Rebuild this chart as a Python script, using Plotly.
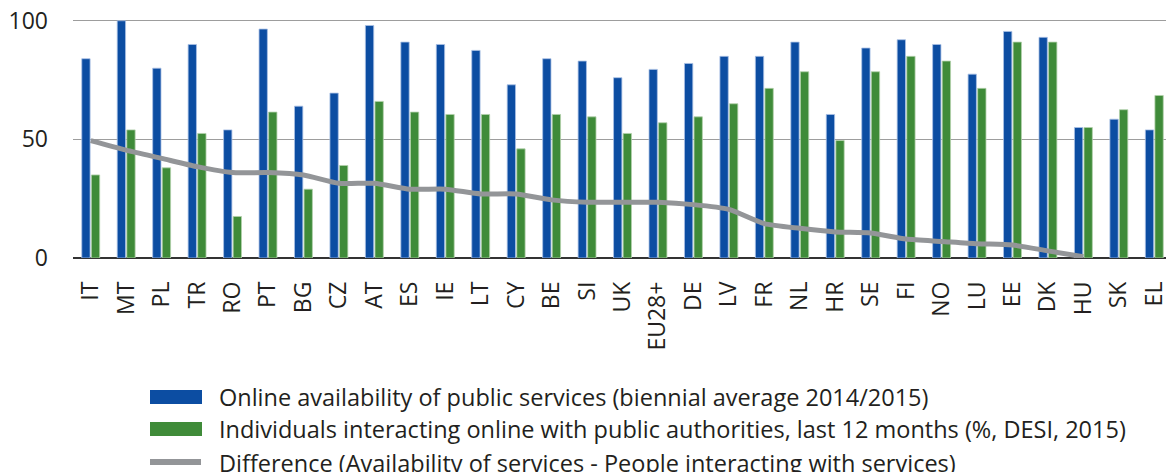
import plotly.graph_objects as go

# Data
countries = ["IT", "MT", "PL", "TR", "RO", "PT", "BG", "CZ", "AT", "ES", "IE", "LT", "CY", "BE", "SI",
             "UK", "EU28+", "DE", "LV", "FR", "NL", "HR", "SE", "FI", "NO", "LU", "EE", "DK", "HU", "SK", "EL"]
availability = [84, 100, 80, 90, 54, 96.5, 64, 69.5, 98, 91, 90, 87.5, 73, 84, 83,
                76, 79.5, 82, 85, 85, 91, 60.5, 88.5, 92, 90, 77.5, 95.5, 93, 55, 58.5, 54]
interacting = [35, 54, 38, 52.5, 17.5, 61.5, 29, 39, 66, 61.5, 60.5, 60.5, 46, 60.5, 59.5,
               52.5, 57, 59.5, 65, 71.5, 78.5, 49.5, 78.5, 85, 83, 71.5, 91, 91, 55, 62.5, 68.5]
difference = [49.5, 45.5, 42, 38.5, 36, 36, 35, 31.5, 31.5, 29, 29, 27, 27, 24.5, 23.5,
              23.5, 23.5, 22.5, 20.5, 14.5, 12.5, 11, 10.5, 8, 7, 6, 5.5, 3, 0.5, None, None]

series_names = ["Online availability of public services (biennial average 2014/2015)",
                "Individuals interacting online with public authorities, last 12 months (%, DESI, 2015)",
                "Difference (Availability of services - People interacting with services)"]

BLUE = "#0c4da2"
GREEN = "#3f8b39"
GREY = "#939598"
TEXT = "#231f20"
FONT = "Open Sans"

fig = go.Figure()
fig.add_trace(go.Bar(x=countries, y=availability, name=series_names[0], marker_color=BLUE,
                     marker_line=dict(width=0.8, color="#aac0e4"), showlegend=False))
fig.add_trace(go.Bar(x=countries, y=interacting, name=series_names[1], marker_color=GREEN,
                     marker_line=dict(width=0.8, color="#b3d0ab"), showlegend=False))
fig.add_trace(go.Scatter(x=countries, y=difference, name=series_names[2], mode="lines",
                         line=dict(color=GREY, width=5, shape="spline", smoothing=0.6),
                         connectgaps=False, showlegend=False))

W, H = 1166, 472
ML, MR, MT, MB = 73, 0, 16, 214

# hand-drawn legend below the plot (pixel -> paper helpers)
def px(x):
    return (x - ML) / (W - ML - MR)

def py(y):
    return (H - MB - y) / (H - MT - MB)

shapes = [
    dict(type="rect", xref="paper", yref="paper", x0=px(150), x1=px(202), y0=py(390), y1=py(404),
         fillcolor=BLUE, line=dict(width=0)),
    dict(type="rect", xref="paper", yref="paper", x0=px(150), x1=px(202), y0=py(422), y1=py(436),
         fillcolor=GREEN, line=dict(width=0)),
    dict(type="line", xref="paper", yref="paper", x0=px(150), x1=px(201), y0=py(462), y1=py(462),
         line=dict(color=GREY, width=6)),
]
annotations = []
for name, yc in zip(series_names, [397, 429, 463]):
    annotations.append(dict(text=name, xref="paper", yref="paper", x=px(217), y=py(yc),
                            xanchor="left", yanchor="middle", showarrow=False,
                            font=dict(family=FONT, size=23.5, color=TEXT)))

fig.update_layout(
    width=W, height=H,
    margin=dict(l=ML, r=MR, t=MT, b=MB, autoexpand=False),
    paper_bgcolor="white", plot_bgcolor="white",
    barmode="group", bargap=0.46, bargroupgap=0.13,
    font=dict(family=FONT, size=22, color=TEXT),
    shapes=shapes, annotations=annotations,
    xaxis=dict(range=[-0.5, 30.33], tickangle=-90, showgrid=False, ticks="", automargin=False,
               ticklabelstandoff=18, tickfont=dict(size=23)),
    yaxis=dict(range=[0, 102], tickvals=[0, 50, 100], showgrid=True, gridcolor="#9d9d9d",
               gridwidth=1, zeroline=True, zerolinecolor="#333333", zerolinewidth=1.5,
               ticks="", automargin=False, ticklabelstandoff=24, tickfont=dict(size=23)),
)

# drop the default 8px body margin so the figure sits at the window corner
fig.write_html("out.html", config={"displayModeBar": False},
               post_script="document.body.style.margin='0';")
